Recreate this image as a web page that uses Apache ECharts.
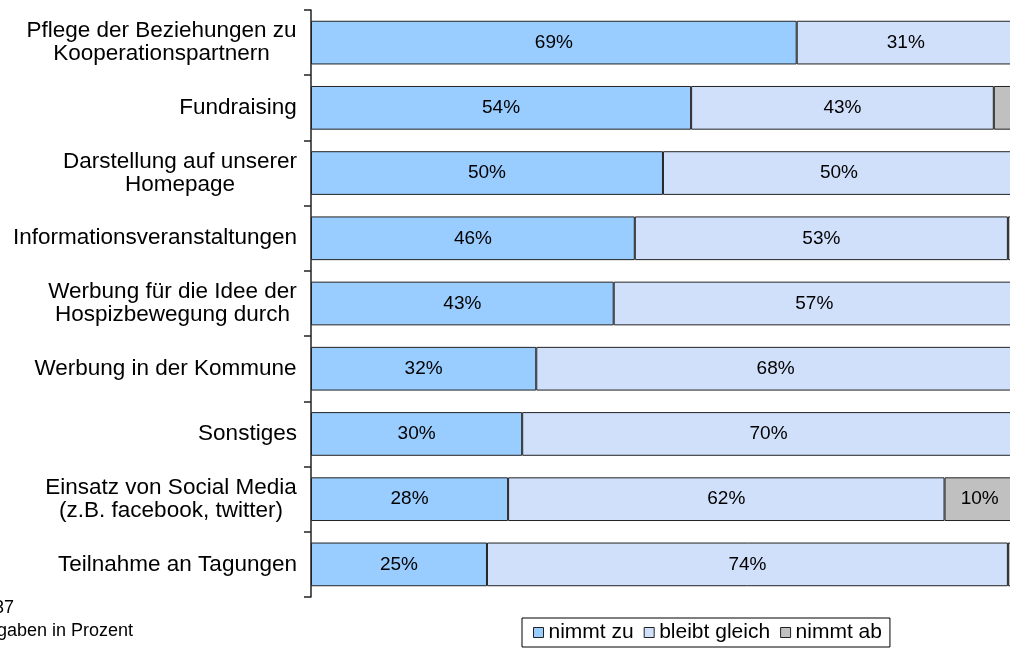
<!DOCTYPE html>
<html>
<head>
<meta charset="utf-8">
<script src="https://cdn.jsdelivr.net/npm/echarts@6/dist/echarts.min.js"></script>
<style>
  html, body { margin: 0; padding: 0; background: #fff; }
  #chart { width: 1010px; height: 650px; }
</style>
</head>
<body>
<div id="chart"></div>
<script>
const categories = [
  'Pflege der Beziehungen zu\nKooperationspartnern',
  'Fundraising',
  'Darstellung auf unserer\nHomepage',
  'Informationsveranstaltungen',
  'Werbung für die Idee der\nHospizbewegung durch',
  'Werbung in der Kommune',
  'Sonstiges',
  'Einsatz von Social Media\n(z.B. facebook, twitter)',
  'Teilnahme an Tagungen'
]
const nimmtZu = [69, 54, 50, 46, 43, 32, 30, 28, 25]
const bleibtGleich = [31, 43, 50, 53, 57, 68, 70, 62, 74]
const nimmtAb = [0, 3, 0, 1, 0, 0, 0, 10, 1]

const font = 'Liberation Sans, Arial, sans-serif'
const labelSize = 22.5

// multi-line labels: centre lines against each other, block right-aligned
let ctx = document.createElement('canvas').getContext('2d')
ctx.font = labelSize + 'px ' + font
let rich = {}
categories.forEach((c, i) => {
  let w = Math.max(...c.split('\n').map(l => ctx.measureText(l).width))
  rich['r' + i] = { width: Math.ceil(w), align: 'center', fontSize: labelSize, lineHeight: 23, color: '#000', fontFamily: font }
})

let myChart = echarts.init(document.getElementById('chart'))

const barLabel = {
  show: true,
  position: 'inside',
  color: '#000',
  fontSize: 19,
  fontFamily: font,
  formatter: p => p.value >= 5 ? p.value + '%' : ''
}
const barItem = color => ({ color: color, borderColor: '#222', borderWidth: 1 })

let option = {
  animation: false,
  backgroundColor: '#fff',
  grid: { left: 311, right: 0, top: 10, bottom: 53 },
  xAxis: {
    type: 'value',
    min: 0,
    max: 99.3, // the 100% end lies just past the right edge
    show: false
  },
  yAxis: {
    type: 'category',
    inverse: true,
    data: categories,
    axisLine: { lineStyle: { color: '#222', width: 1.5 } },
    axisTick: { show: true, length: 7, lineStyle: { color: '#222', width: 1.5 } },
    axisLabel: {
      margin: 14,
      align: 'right',
      formatter: (v, i) => v.split('\n').map(l => '{r' + i + '|' + l + '}').join('\n'),
      rich: rich
    }
  },
  legend: {
    left: 522,
    top: 618,
    padding: [4, 8, 4, 11],
    itemGap: 10,
    itemWidth: 10,
    itemHeight: 10,
    icon: 'rect',
    borderColor: '#000',
    borderWidth: 1,
    itemStyle: { borderColor: '#222', borderWidth: 1 },
    textStyle: { fontSize: 21, color: '#000', fontFamily: font },
    data: ['nimmt zu', 'bleibt gleich', 'nimmt ab']
  },
  graphic: [
    { type: 'text', x: 14, y: 608, style: { text: 'n = 37', align: 'right', verticalAlign: 'middle', fontSize: 18, fontFamily: font, fill: '#000' } },
    { type: 'text', x: 133, y: 631, style: { text: 'Angaben in Prozent', align: 'right', verticalAlign: 'middle', fontSize: 18, fontFamily: font, fill: '#000' } }
  ],
  series: [
    { name: 'nimmt zu', type: 'bar', stack: 'all', data: nimmtZu, clip: false, barCategoryGap: '33%', itemStyle: barItem('#99ccff'), label: barLabel },
    { name: 'bleibt gleich', type: 'bar', stack: 'all', data: bleibtGleich, clip: false, itemStyle: barItem('#d0e0fb'), label: barLabel },
    { name: 'nimmt ab', type: 'bar', stack: 'all', data: nimmtAb, clip: false, itemStyle: barItem('#c0c0c0'), label: barLabel }
  ]
}
myChart.setOption(option)
</script>
</body>
</html>
